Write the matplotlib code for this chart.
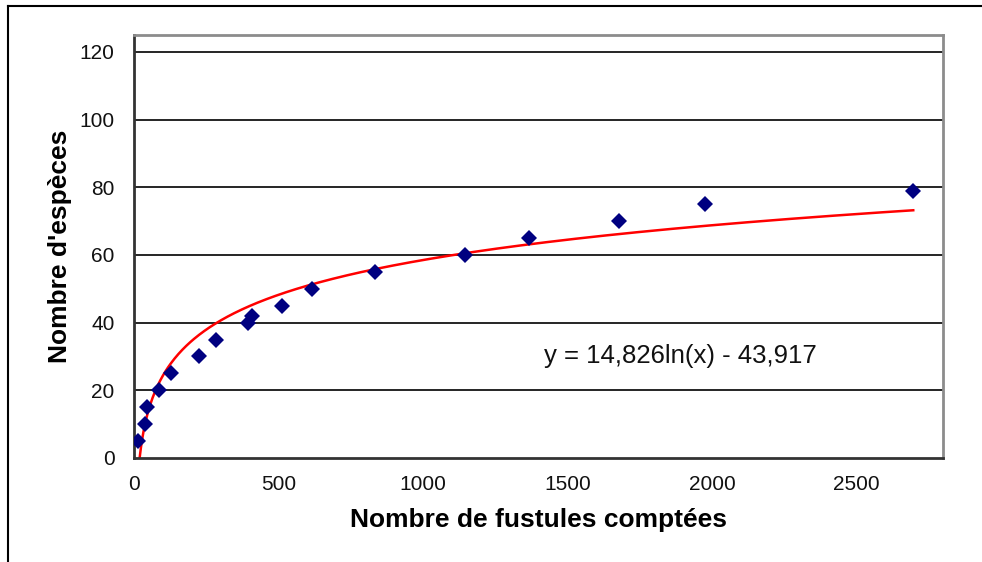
import numpy as np
import matplotlib
matplotlib.use("Agg")
import matplotlib.pyplot as plt
from matplotlib.lines import Line2D

plt.rcParams['font.family'] = ['Liberation Sans', 'DejaVu Sans']

# --- Data ---
fustules = [15, 38, 46, 88, 128, 225, 283, 394, 408, 513, 615, 834,
            1146, 1368, 1679, 1977, 2697]
especes = [5, 10, 15, 20, 25, 30, 35, 40, 42, 45, 50, 55,
           60, 65, 70, 75, 79]

# logarithmic trend line: y = a*ln(x) + b
coef_a = 14.826
coef_b = -43.917
equation = "y = 14,826ln(x) - 43,917"

x_ticks = [0, 500, 1000, 1500, 2000, 2500]
y_ticks = [0, 20, 40, 60, 80, 100, 120]

# --- Figure ---
fig = plt.figure(figsize=(9.82, 5.62), dpi=100)
ax = fig.add_axes([0.1365, 0.1851, 0.8238, 0.7526])

# gridlines
for yv in y_ticks[1:]:
    ax.axhline(yv, color='black', lw=1.2, zorder=1)

# trend line from min to max x
xs = np.linspace(min(fustules), max(fustules), 600)
ax.plot(xs, coef_a * np.log(xs) + coef_b, color='#ff0000', lw=1.8, zorder=2)

# data points
ax.plot(fustules, especes, linestyle='none', marker='D', ms=7.8,
        color='#000080', markeredgewidth=0, zorder=3)

ax.set_xlim(0, 2800)
ax.set_ylim(0, 125)
ax.set_xticks(x_ticks)
ax.set_yticks(y_ticks)
ax.tick_params(axis='both', length=0, labelsize=15, colors='#111111')
ax.tick_params(axis='x', pad=12)
ax.tick_params(axis='y', pad=14)

for side in ['left', 'bottom']:
    ax.spines[side].set_color('#333333')
    ax.spines[side].set_linewidth(2)
for side in ['top', 'right']:
    ax.spines[side].set_color('#8c8c8c')
    ax.spines[side].set_linewidth(2)

ax.set_xlabel("Nombre de fustules comptées", fontsize=19, fontweight='bold', va='center')
ax.xaxis.set_label_coords(0.5, -0.147)
ax.set_ylabel("Nombre d'espèces", fontsize=19, fontweight='bold', va='center', ha='center')
ax.yaxis.set_label_coords(-0.092, 0.5)

ax.text(0.675, 0.24, equation, transform=ax.transAxes, fontsize=18.5,
        ha='center', va='center', color='#111111')

# outer chart border (partly cut off in the reference)
fig.add_artist(Line2D([0.0082, 1.0], [0.9893, 0.9893], color='black', lw=1.5,
                      transform=fig.transFigure))
fig.add_artist(Line2D([0.0082, 0.0082], [0.0, 0.9893], color='black', lw=1.5,
                      transform=fig.transFigure))

fig.savefig("out.png", dpi=100)
